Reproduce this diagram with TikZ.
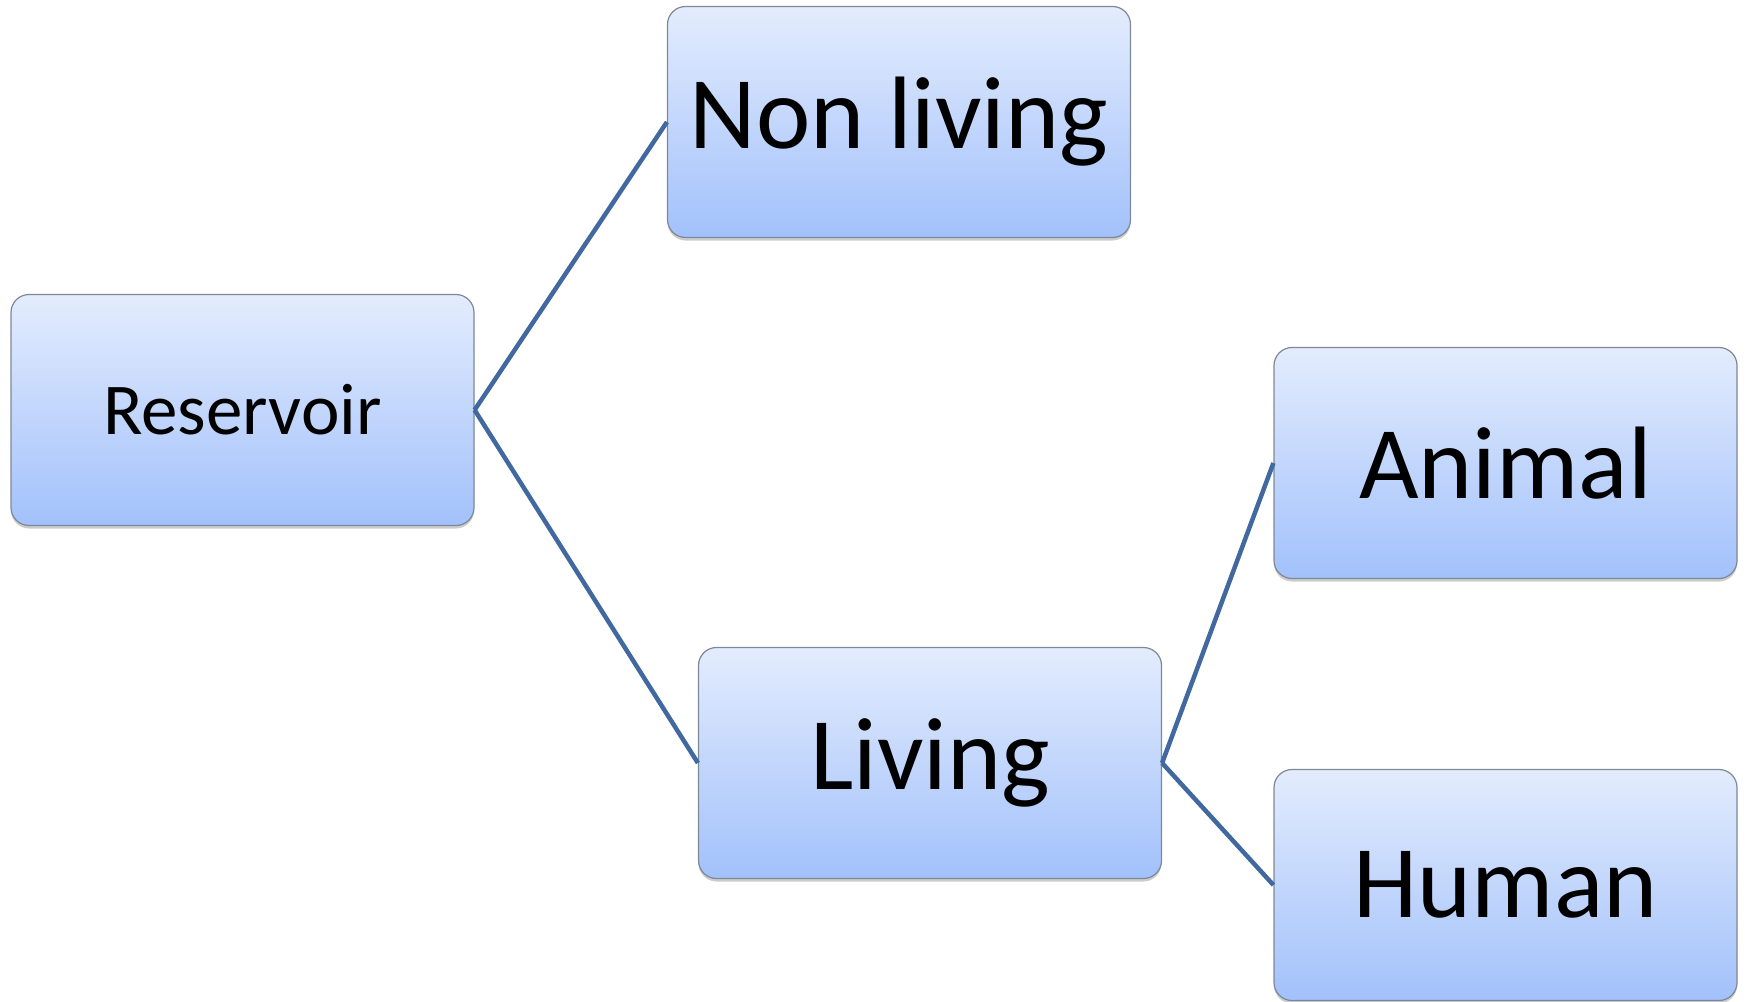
\documentclass[tikz,border=0pt]{standalone}
\usepackage{fontspec}
\setmainfont{Carlito}
\usepackage{tikz}
\usetikzlibrary{shadows}
\definecolor{boxtop}{HTML}{E3ECFD}
\definecolor{boxbot}{HTML}{A2C1FB}
\definecolor{boxline}{HTML}{7F8897}
\definecolor{linkblue}{HTML}{4169A0}
\tikzset{
  res/.style={draw=boxline,line width=1.2pt,rounded corners=18pt,top color=boxtop,bottom color=boxbot,
    minimum width=463pt,minimum height=231pt,inner sep=0pt,
    drop shadow={shadow xshift=0pt,shadow yshift=-3pt,fill=black!40,opacity=0.5}},
  link/.style={draw=linkblue,line width=4.5pt}
}
\begin{document}
\begin{tikzpicture}[x=1pt,y=-1pt] %tree of reservoirs
        \useasboundingbox (0,0) rectangle (1752,1001);
        \node[res,font=\fontsize{73}{80}\selectfont] (reservoir) at (242.5,410) {Reservoir};
        \node[res,font=\fontsize{103}{110}\selectfont] (nonliving) at (899,122) {Non living};
        \node[res,font=\fontsize{103}{110}\selectfont] (living) at (930,763) {Living};
        \node[res,font=\fontsize{103}{110}\selectfont] (animal) at (1505.5,463) {Animal};
        \node[res,font=\fontsize{103}{110}\selectfont] (human) at (1505.5,885) {Human};
        \draw[link] (reservoir.east) -- (nonliving.west);
        \draw[link] (reservoir.east) -- (living.west);
        \draw[link] (living.east) -- (animal.west);
        \draw[link] (living.east) -- (human.west);
    \end{tikzpicture}
\end{document}
